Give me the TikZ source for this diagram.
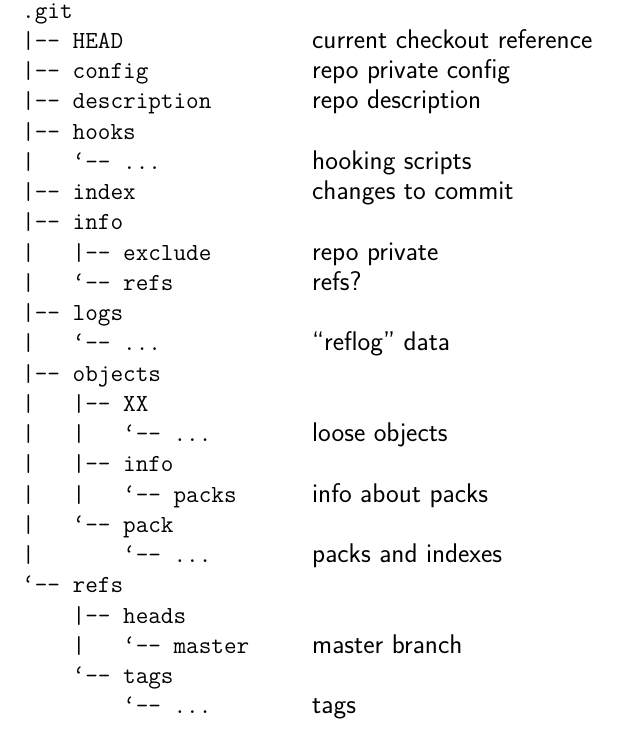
\documentclass[tikz,border=0pt]{standalone}
\newcommand\mydots{...}
\newcommand\bq{‘}
\begin{document}
\begin{tikzpicture}[x=1pt,y=-1pt,
  lft/.style={anchor=base west,inner sep=0pt,font=\fontsize{24.5}{26}\ttfamily},
  rgt/.style={anchor=base west,inner sep=0pt,font=\fontsize{27}{29}\sffamily}]
\useasboundingbox (0,0) rectangle (616,739);
\foreach \i/\l/\r in {
0/.git/,
1/|--~HEAD/current checkout reference,
2/|--~config/repo private config,
3/|--~description/repo description,
4/|--~hooks/,
5/|~~~\bq--~\mydots/hooking scripts,
6/|--~index/changes to commit,
7/|--~info/,
8/|~~~|--~exclude/repo private,
9/|~~~\bq--~refs/refs?,
10/|--~logs/,
11/|~~~\bq--~\mydots/“reflog” data,
12/|--~objects/,
13/|~~~|--~XX/,
14/|~~~|~~~\bq--~\mydots/loose objects,
15/|~~~|--~info/,
16/|~~~|~~~\bq--~packs/info about packs,
17/|~~~\bq--~pack/,
18/|~~~~~~~\bq--~\mydots/packs and indexes,
19/\bq--~refs/,
20/~~~~|--~heads/,
21/~~~~|~~~\bq--~master/master branch,
22/~~~~\bq--~tags/,
23/~~~~~~~~\bq--~\mydots/tags}
{
  \node[lft] (l\i) at (22,{18+\i*30.26}) {\l};
  \node[rgt] (r\i) at (312,{18+\i*30.26}) {\r};
}
\end{tikzpicture}
\end{document}
